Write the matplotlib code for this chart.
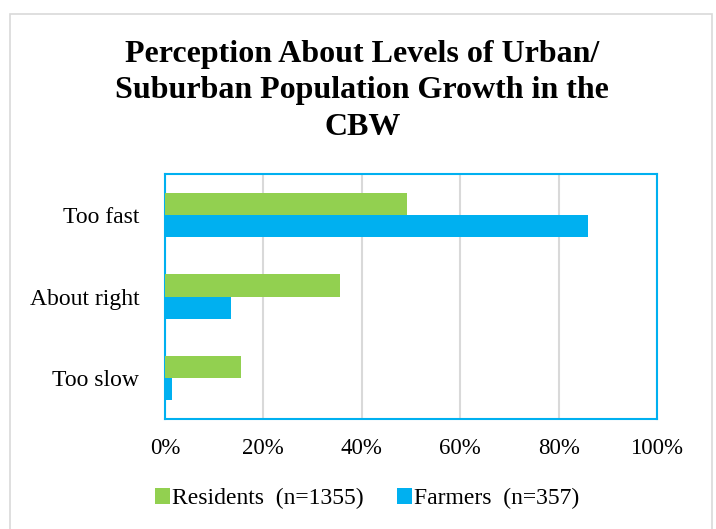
import matplotlib

matplotlib.use("Agg")
import matplotlib.pyplot as plt
import numpy as np
from matplotlib.patches import Rectangle

categories = ["Too fast", "About right", "Too slow"]
residents = [49.2, 35.5, 15.4]
farmers = [86.0, 13.4, 1.4]
series_labels = ["Residents  (n=1355)", "Farmers  (n=357)"]
x_ticks = [0, 20, 40, 60, 80, 100]

GREEN = "#92D050"
BLUE = "#00B0F0"

plt.rcParams["font.family"] = ["Liberation Serif", "DejaVu Serif"]

fig = plt.figure(figsize=(7.16, 5.29), dpi=100)
# light outer chart frame
fig.patches.append(Rectangle((10 / 716, -0.05), 702 / 716, 1.05 - 14 / 529,
                             transform=fig.transFigure, fill=False,
                             edgecolor="#D9D9D9", linewidth=1.2))

ax = fig.add_axes([0.2302, 0.2079, 0.6874, 0.4631])

y = np.arange(len(categories))
h = 0.27
ax.barh(y - h / 2, residents, h, color=GREEN, label=series_labels[0], zorder=3)
ax.barh(y + h / 2, farmers, h, color=BLUE, label=series_labels[1], zorder=3)

ax.set_xlim(0, 100)
ax.set_ylim(len(categories) - 0.5, -0.5)
ax.set_xticks(x_ticks)
ax.set_xticklabels([f"{t}%" for t in x_ticks], fontsize=16.5)
ax.set_yticks(y)
ax.set_yticklabels(categories, fontsize=17)
ax.tick_params(length=0)
ax.tick_params(axis="x", pad=14)
ax.tick_params(axis="y", pad=18.5)
ax.grid(axis="x", color="#D9D9D9", linewidth=1.5, zorder=0)
for s in ax.spines.values():
    s.set_color(BLUE)
    s.set_linewidth(1.5)

fig.text(0.506, 0.828, "Perception About Levels of Urban/\nSuburban Population Growth in the\nCBW",
         ha="center", va="center", fontsize=23, fontweight="bold", linespacing=1.32)

fig.legend(loc="center", bbox_to_anchor=(0.513, 0.057), ncol=2, frameon=False,
           fontsize=17, handlelength=0.64, handleheight=0.64, handletextpad=0.1,
           columnspacing=1.4)

fig.savefig("out.png", dpi=100)
